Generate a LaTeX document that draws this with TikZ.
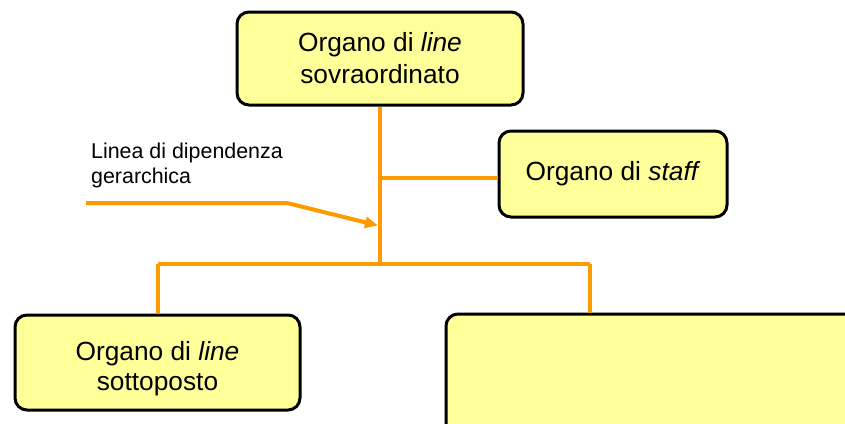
\documentclass[tikz,border=0pt]{standalone}
\usepackage{fontspec}
\setmainfont{Liberation Sans}
\usetikzlibrary{arrows.meta}
\definecolor{boxfill}{RGB}{255,255,153}
\definecolor{linkorange}{RGB}{255,153,0}
\tikzset{
  orgbox/.style={draw=black, line width=3pt, fill=boxfill, rounded corners=12pt,
    rectangle, align=center, inner sep=0pt, font=\fontsize{26.3}{32}\selectfont},
  link/.style={draw=linkorange, line width=4pt},
  lbl/.style={align=left, anchor=north west, inner sep=0pt, font=\fontsize{21.4}{25}\selectfont}
}
\begin{document}
\begin{tikzpicture}[x=1pt,y=-1pt]
\useasboundingbox (0,0) rectangle (845,423);
\clip (0,0) rectangle (845,423);
\node[orgbox, minimum width=286pt, minimum height=93pt] (top) at (380,58.5) {Organo di \textit{line}\\sovraordinato};
\node[orgbox, minimum width=228pt, minimum height=86pt] (staff) at (613,174) {Organo di \textit{staff}};
\node[orgbox, minimum width=285pt, minimum height=95pt,
  label={[align=center, inner sep=0pt, yshift=-6pt, font=\fontsize{26.3}{30}\selectfont]center:Organo di \textit{line}\\sottoposto}] (sub) at (157.5,362.5) {};
\node[orgbox, minimum width=454pt, minimum height=126pt] (other) at (673,377) {};
\coordinate (bus) at (380,264);
\coordinate (busL) at (158,264);
\coordinate (busR) at (590,264);
\coordinate (stafftap) at (380,178);
\draw[link] (top.south) -- (bus);
\draw[link] (stafftap) -- (stafftap -| staff.west);
\draw[link] (busL) -- (busR);
\draw[link] (busL) -- (busL |- sub.north);
\draw[link] (busR) -- (busR |- other.north);
\node[lbl] (label) at (91,143) {Linea di dipendenza\\gerarchica};
\coordinate (leadstart) at (86,203);
\coordinate (leadbend) at (287,203);
\coordinate (leadtip) at (378,225.5);
\draw[link, -{Triangle[length=13pt,width=11pt]}] (leadstart) -- (leadbend) -- (leadtip);
\end{tikzpicture}
\end{document}
